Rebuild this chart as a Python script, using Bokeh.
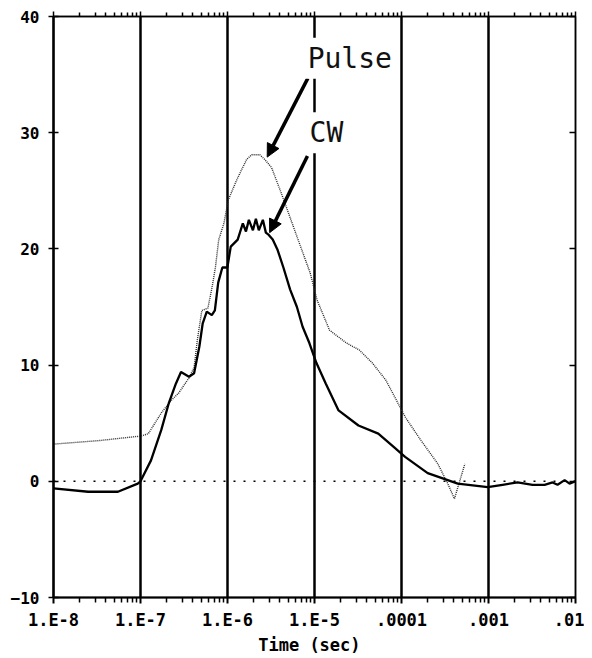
from bokeh.plotting import figure
from bokeh.models import (Range1d, FixedTicker, LogAxis, LinearAxis, Span, Label,
                          Arrow, NormalHead)
from bokeh.embed import file_html
from bokeh.resources import INLINE

# ---- data ----
CW_T = [1.0e-8, 2.5e-8, 5.5e-8, 9.3e-8, 1.0e-7, 1.32e-7, 1.73e-7, 2.11e-7, 2.55e-7, 2.92e-7,
        3.61e-7, 4.13e-7, 4.75e-7, 5.19e-7, 5.78e-7, 6.6e-7, 7.16e-7, 7.82e-7, 8.73e-7, 9.96e-7,
        1.09e-6, 1.31e-6, 1.50e-6, 1.63e-6, 1.76e-6, 1.96e-6, 2.12e-6, 2.29e-6, 2.55e-6, 2.76e-6,
        2.98e-6, 3.31e-6, 3.77e-6, 4.39e-6, 5.25e-6, 6.28e-6, 7.3e-6, 8.73e-6, 1.05e-5, 1.35e-5,
        1.89e-5, 3.2e-5, 5.41e-5, 8.0e-5, 1.10e-4, 2.0e-4, 4.43e-4, 9.8e-4, 1.45e-3, 2.16e-3,
        3.21e-3, 4.41e-3, 5.45e-3, 6.22e-3, 7.5e-3, 8.55e-3, 1.0e-2]
CW_V = [-0.6, -0.9, -0.9, -0.2, 0.0, 1.8, 4.4, 6.7, 8.4, 9.4,
        9.0, 9.3, 11.6, 13.6, 14.6, 14.3, 14.7, 17.1, 18.4, 18.4,
        20.2, 20.8, 22.2, 21.5, 22.5, 21.6, 22.6, 21.6, 22.5, 21.4,
        21.2, 20.8, 19.9, 18.4, 16.5, 15.0, 13.3, 11.9, 10.2, 8.4,
        6.1, 4.8, 4.1, 3.0, 2.1, 0.7, -0.2, -0.5, -0.3, -0.1,
        -0.3, -0.3, -0.1, -0.3, 0.1, -0.2, 0.0]

PULSE_T = [1.0e-8, 3.3e-8, 1.02e-7, 1.23e-7, 1.74e-7, 2.28e-7, 2.75e-7, 3.61e-7, 4.13e-7, 4.51e-7,
           5.07e-7, 5.95e-7, 6.65e-7, 7.26e-7, 7.93e-7, 9.1e-7, 1.02e-6, 1.27e-6, 1.45e-6, 1.66e-6,
           1.90e-6, 2.35e-6, 2.68e-6, 3.21e-6, 4.15e-6, 5.36e-6, 6.92e-6, 8.95e-6, 1.07e-5, 1.49e-5,
           2.33e-5, 3.27e-5, 4.6e-5, 6.62e-5, 1.11e-4, 1.68e-4, 2.62e-4, 3.40e-4, 4.06e-4, 5.35e-4]
PULSE_V = [3.2, 3.5, 3.9, 4.1, 5.9, 7.0, 7.6, 8.9, 9.8, 12.2,
           14.7, 14.9, 16.7, 18.4, 20.8, 22.2, 24.2, 25.9, 26.8, 27.7,
           28.1, 28.1, 27.7, 27.0, 24.8, 22.5, 20.2, 17.9, 15.6, 13.0,
           11.9, 11.3, 10.2, 8.7, 5.5, 3.5, 1.5, -0.2, -1.5, 1.5]

X_TICKS = [1e-8, 1e-7, 1e-6, 1e-5, 1e-4, 1e-3, 1e-2]
X_TICK_LABELS = ["1.E-8", "1.E-7", "1.E-6", "1.E-5", ".0001", ".001", ".01"]
Y_TICKS = [-10, 0, 10, 20, 30, 40]
X_LABEL = "Time  (sec)"

# annotation placement
PULSE_LABEL = (7.5e-6, 36.4)
CW_LABEL = (7.9e-6, 30.0)
PULSE_ARROW = (8.4e-6, 34.7, 2.86e-6, 27.9)
CW_ARROW = (8.3e-6, 28.0, 3.05e-6, 21.4)

MINOR = [k * d for d in X_TICKS[:-1] for k in range(2, 10)]
TICK_FONT = "DejaVu Sans Mono"

p = figure(width=584, height=657, x_axis_type="log",
           x_range=Range1d(1e-8, 1e-2), y_range=Range1d(-10, 40),
           output_backend="svg", toolbar_location=None,
           min_border_left=53, min_border_right=9, min_border_top=16, min_border_bottom=60)
p.background_fill_color = "white"
p.border_fill_color = "white"
p.outline_line_color = "black"
p.outline_line_width = 1.5

xticker = FixedTicker(ticks=X_TICKS, minor_ticks=MINOR)
yticker = FixedTicker(ticks=Y_TICKS, minor_ticks=[])

# bottom axis
xa = p.xaxis[0]
xa.ticker = xticker
xa.major_label_overrides = {t: s for t, s in zip(X_TICKS, X_TICK_LABELS)}
xa.axis_line_color = "black"
xa.axis_line_width = 2
xa.major_tick_in = 0
xa.major_tick_out = 6
xa.minor_tick_in = 0
xa.minor_tick_out = 5
xa.major_tick_line_width = 2
xa.minor_tick_line_width = 1.5
xa.major_label_standoff = 6
xa.major_label_text_font = TICK_FONT
xa.major_label_text_font_style = "bold"
xa.major_label_text_font_size = "17px"
xa.major_label_text_color = "black"
xa.axis_label = X_LABEL
xa.axis_label_text_font = TICK_FONT
xa.axis_label_text_font_style = "bold"
xa.axis_label_text_font_size = "17px"
xa.axis_label_standoff = 2
xa.axis_label_text_color = "black"

# left axis
ya = p.yaxis[0]
ya.ticker = yticker
ya.axis_line_color = "black"
ya.axis_line_width = 2.5
ya.major_tick_in = 5
ya.major_tick_out = 5
ya.major_tick_line_width = 1.5
ya.minor_tick_in = 0
ya.minor_tick_out = 0
ya.major_label_standoff = 9
ya.major_label_text_font = TICK_FONT
ya.major_label_text_font_style = "bold"
ya.major_label_text_font_size = "16px"
ya.major_label_text_color = "black"

# top axis (ticks only)
top = LogAxis(ticker=xticker, major_tick_in=0, major_tick_out=5, minor_tick_in=0,
              minor_tick_out=4, major_label_text_font_size="1px", major_label_text_color=None,
              major_label_standoff=0,
              axis_line_width=1.5, major_tick_line_width=1.5, minor_tick_line_width=1.5)
p.add_layout(top, "above")

# right axis (ticks only)
right = LinearAxis(ticker=yticker, major_tick_in=6, major_tick_out=0, minor_tick_in=0,
                   minor_tick_out=0, major_label_text_font_size="1px", major_label_text_color=None,
                   major_label_standoff=0,
                   axis_line_width=1.5, major_tick_line_width=1.5)
p.add_layout(right, "right")

# grid: heavy vertical lines at each decade, no horizontal grid
p.xgrid.ticker = xticker
p.xgrid.grid_line_color = "black"
p.xgrid.grid_line_width = 2.5
p.ygrid.grid_line_color = None

# dotted zero line
p.add_layout(Span(location=0, dimension="width", line_color="black",
                  line_width=1.5, line_dash="2 8"))

# curves
p.line(PULSE_T, PULSE_V, line_color="#2a2a2a", line_width=1.4, line_dash="1 1")
p.line(CW_T, CW_V, line_color="black", line_width=2.3)

# arrows
for xs, ys, xe, ye in (PULSE_ARROW, CW_ARROW):
    p.add_layout(Arrow(x_start=xs, y_start=ys, x_end=xe, y_end=ye, line_width=3.5,
                       line_color="black",
                       end=NormalHead(size=13, fill_color="black", line_color="black",
                                      line_width=1)))

# labels with white boxes
for (lx, ly), txt in ((PULSE_LABEL, "Pulse"), (CW_LABEL, "CW")):
    p.add_layout(Label(x=lx, y=ly, text=txt, text_font=TICK_FONT, text_font_size="28px",
                       text_baseline="middle", text_align="left", text_color="#111111",
                       background_fill_color="white", padding=4))

open("out.html", "w").write(file_html(p, INLINE))
